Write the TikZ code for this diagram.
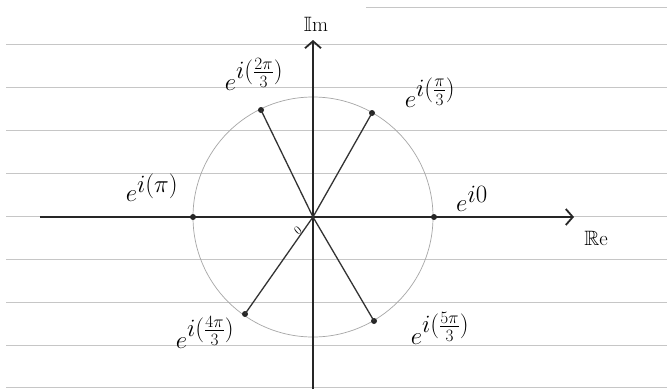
\documentclass[tikz,border=0pt]{standalone}
\usepackage{amsmath}
\usepackage{amssymb}
\usetikzlibrary{arrows.meta}

\tikzset{
  paperline/.style={gray!45,line width=0.9pt},
  axisline/.style={black!85,line width=1.8pt},
  spoke/.style={black!80,line width=1.3pt},
  rootdot/.style={circle,fill=black!85,inner sep=0pt,minimum size=6pt},
  rootlabel/.style={font=\fontsize{33}{38}\selectfont}
}

\begin{document}
\begin{tikzpicture}[x=1pt,y=-1pt]
\useasboundingbox (0,0) rectangle (667,389);
\fill[white] (0,0) rectangle (667,389);
\foreach \y in {44,87,130,173,216,259,302,345,387}
  \draw[paperline] (6,\y) -- (667,\y);
\draw[paperline] (366,7) -- (667,7);
\coordinate (O) at (313,217);
\draw[gray!70,line width=0.7pt] (O) circle [radius=120pt];
\coordinate (xstart) at (40,217);
\coordinate (xend) at (574,217);
\coordinate (ybot) at (313,389);
\coordinate (ytop) at (313,40);
\draw[axisline,-{Straight Barb[length=7pt,width=16pt]}] (xstart) -- (xend);
\draw[axisline,-{Straight Barb[length=7pt,width=16pt]}] (ybot) -- (ytop);
\node[rootdot] (p0) at (434,217) {};
\node[rootdot] (p1) at (372,113) {};
\node[rootdot] (p2) at (261,110) {};
\node[rootdot] (p3) at (193,217) {};
\node[rootdot] (p4) at (245,314) {};
\node[rootdot] (p5) at (374,321) {};
\draw[spoke] (p1.center) -- (O) -- (p4.center);
\draw[spoke] (p2.center) -- (O) -- (p5.center);
\node[rootlabel] (l0) at (472,199) {\(e^{i0}\)};
\node[rootlabel] (l1) at (430,93) {\(e^{i(\frac{\pi}{3})}\)};
\node[rootlabel] (l2) at (254,74) {\(e^{i(\frac{2\pi}{3})}\)};
\node[rootlabel] (l3) at (152,188) {\(e^{i(\pi)}\)};
\node[rootlabel] (l4) at (205,332) {\(e^{i(\frac{4\pi}{3})}\)};
\node[rootlabel] (l5) at (440,328) {\(e^{i(\frac{5\pi}{3})}\)};
\node[font=\huge] (im) at (316,24) {\(\mathbb{I}\mathrm{m}\)};
\node[font=\huge] (re) at (596,238) {\(\mathbb{R}\mathrm{e}\)};
\node[font=\large,rotate=40] (zero) at (298,231) {\(0\)};
\end{tikzpicture}
\end{document}
